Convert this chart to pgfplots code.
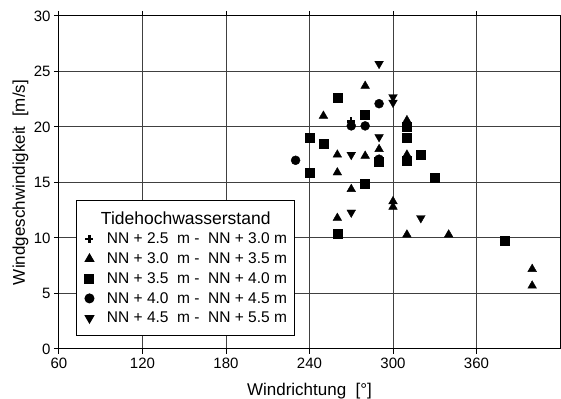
\documentclass[border=0pt]{standalone}
\usepackage{fontspec}
\setmainfont{Liberation Sans}
\usepackage{pgfplots}
\pgfplotsset{compat=1.18}
\begin{document}
\begin{tikzpicture}
\begin{axis}[
  scale only axis,
  width=501pt, height=333pt,
  xmin=60, xmax=420, ymin=0, ymax=30,
  xtick={60,120,180,240,300,360},
  ytick={0,5,10,15,20,25,30},
  grid=major,
  major grid style={black!75, line width=1pt},
  axis line style={line width=1pt},
  tick align=outside,
  major tick length=5pt,
  tick style={black, line width=1pt},
  /pgf/number format/assume math mode=true,
  tick label style={font=\fontsize{15}{18}\selectfont},
  label style={font=\fontsize{17}{20}\selectfont},
  xlabel={Windrichtung\ \ [°]},
  ylabel={Windgeschwindigkeit\ \ [m/s]},
  xlabel style={at={(axis description cs:0.5,-0.1402)}, anchor=base},
  ylabel style={at={(axis description cs:-0.0679,0.5)}, anchor=base},
  only marks,
  legend image code/.code={\path (-8pt,0pt) (8pt,0pt); \draw[only marks] plot coordinates {(0pt,0pt)};},
  legend style={
    at={(axis description cs:0.0349,0.4474)}, anchor=north west,
    draw=black, line width=1pt, fill=white,
    inner xsep=4pt, inner ysep=8pt,
    row sep=1.4pt, column sep=6pt,
    font=\fontsize{15.5}{18}\selectfont,
    nodes={inner sep=3pt},
    cells={anchor=west},
  },
]
\coordinate (BL) at (rel axis cs:0,0);
\coordinate (TR) at (rel axis cs:1,1);
\addlegendimage{empty legend}
\addlegendentry{\hspace*{-6pt}\rule[-9pt]{0pt}{9pt}\fontsize{17.5}{20}\selectfont Tidehochwasserstand}

\addplot[only marks, mark=+, mark size=4pt, black, mark options={line width=2.4pt}]
  coordinates {(270,20.5)};
\addlegendentry{NN + 2.5\ \ m -\ \ NN + 3.0 m}

\addplot[only marks, mark=triangle*, mark size=5pt, black, fill=black]
  coordinates {
  (250,21.0) (260,17.5) (260,15.9) (260,11.8) (270,14.4)
  (280,23.7) (280,17.4) (290,18.0) (300,13.3) (300,12.8)
  (310,20.6) (310,17.5) (310,10.3) (340,10.3) (400,7.2) (400,5.7)};
\addlegendentry{NN + 3.0\ \ m -\ \ NN + 3.5 m}

\addplot[only marks, mark=square*, mark size=4.5pt, black, fill=black]
  coordinates {
  (240,19.0) (240,15.9) (250,18.5) (260,22.6) (260,10.4)
  (280,21.1) (280,14.9) (290,16.9) (310,20.0) (310,19.0)
  (310,17.0) (320,17.5) (330,15.4) (380,9.8)};
\addlegendentry{NN + 3.5\ \ m -\ \ NN + 4.0 m}

\addplot[only marks, mark=*, mark size=4.5pt, black, fill=black]
  coordinates {
  (230,17.0) (270,20.1) (280,20.1) (290,22.1) (290,17.1)};
\addlegendentry{NN + 4.0\ \ m -\ \ NN + 4.5 m}

\addplot[only marks, mark=triangle*, mark size=5pt, black, fill=black, mark options={rotate=180}]
  coordinates {
  (270,17.5) (270,12.3) (290,25.7) (290,19.1) (300,22.7)
  (300,22.2) (320,11.8)};
\addlegendentry{NN + 4.5\ \ m -\ \ NN + 5.5 m}
\end{axis}
\pgfresetboundingbox
\path[use as bounding box] ([shift={(-59pt,-50pt)}]BL) rectangle ([shift={(1pt,16pt)}]TR);
\end{tikzpicture}
\end{document}
